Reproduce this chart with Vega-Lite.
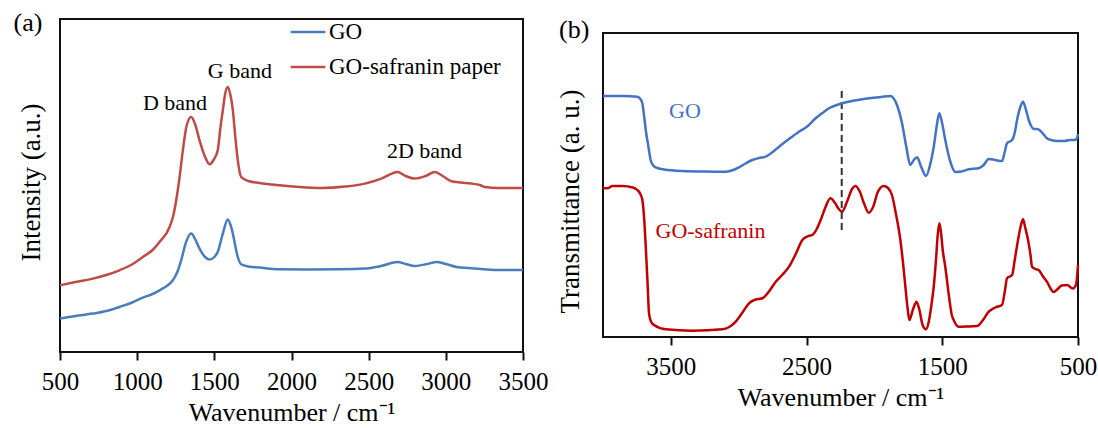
{
  "$schema": "https://vega.github.io/schema/vega-lite/v6.json",
  "background": "white",
  "padding": {"left": 12, "top": 9, "right": 0, "bottom": 0},
  "config": {
    "font": "Liberation Serif",
    "view": {"stroke": "#111", "strokeWidth": 2},
    "axis": {"grid": false, "labelColor": "#000", "titleColor": "#000", "titleFontWeight": "normal", "tickColor": "#111", "labelFont": "Liberation Serif", "titleFont": "Liberation Serif"},
    "legend": {"labelFont": "Liberation Serif"},
    "text": {"font": "Liberation Serif"}
  },
  "datasets": {
    "raman": [
      {"x": 500, "v": 33.4, "series": "GO"}, {"x": 600, "v": 36, "series": "GO"}, {"x": 713, "v": 38.4, "series": "GO"}, {"x": 800, "v": 41, "series": "GO"}, {"x": 885, "v": 45, "series": "GO"}, {"x": 960, "v": 49, "series": "GO"}, {"x": 1037, "v": 54.4, "series": "GO"}, {"x": 1100, "v": 58, "series": "GO"}, {"x": 1145, "v": 61.7, "series": "GO"}, {"x": 1200, "v": 67, "series": "GO"}, {"x": 1231, "v": 71.7, "series": "GO"}, {"x": 1260, "v": 80, "series": "GO"}, {"x": 1285, "v": 91.7, "series": "GO"}, {"x": 1317, "v": 110, "series": "GO"}, {"x": 1350, "v": 118.4, "series": "GO"}, {"x": 1375, "v": 113, "series": "GO"}, {"x": 1404, "v": 103.4, "series": "GO"}, {"x": 1440, "v": 95, "series": "GO"}, {"x": 1469, "v": 92.4, "series": "GO"}, {"x": 1500, "v": 95, "series": "GO"}, {"x": 1522, "v": 100, "series": "GO"}, {"x": 1555, "v": 118.4, "series": "GO"}, {"x": 1587, "v": 132.4, "series": "GO"}, {"x": 1605, "v": 127, "series": "GO"}, {"x": 1620, "v": 118.4, "series": "GO"}, {"x": 1640, "v": 103, "series": "GO"}, {"x": 1652, "v": 95, "series": "GO"}, {"x": 1674, "v": 87.7, "series": "GO"}, {"x": 1720, "v": 85.5, "series": "GO"}, {"x": 1793, "v": 84.4, "series": "GO"}, {"x": 1922, "v": 82.7, "series": "GO"}, {"x": 2100, "v": 82.5, "series": "GO"}, {"x": 2300, "v": 82.7, "series": "GO"}, {"x": 2475, "v": 83.4, "series": "GO"}, {"x": 2580, "v": 86, "series": "GO"}, {"x": 2687, "v": 90, "series": "GO"}, {"x": 2740, "v": 88, "series": "GO"}, {"x": 2799, "v": 86, "series": "GO"}, {"x": 2880, "v": 88, "series": "GO"}, {"x": 2940, "v": 90, "series": "GO"}, {"x": 3000, "v": 88, "series": "GO"}, {"x": 3070, "v": 85, "series": "GO"}, {"x": 3150, "v": 84, "series": "GO"}, {"x": 3252, "v": 82.7, "series": "GO"}, {"x": 3350, "v": 82, "series": "GO"}, {"x": 3500, "v": 82, "series": "GO"},
      {"x": 500, "v": 66.7, "series": "GO-safranin paper"}, {"x": 600, "v": 70, "series": "GO-safranin paper"}, {"x": 713, "v": 73.4, "series": "GO-safranin paper"}, {"x": 800, "v": 77, "series": "GO-safranin paper"}, {"x": 885, "v": 81.7, "series": "GO-safranin paper"}, {"x": 960, "v": 87, "series": "GO-safranin paper"}, {"x": 1037, "v": 95, "series": "GO-safranin paper"}, {"x": 1100, "v": 102, "series": "GO-safranin paper"}, {"x": 1145, "v": 110, "series": "GO-safranin paper"}, {"x": 1210, "v": 125, "series": "GO-safranin paper"}, {"x": 1235, "v": 137, "series": "GO-safranin paper"}, {"x": 1253, "v": 151.7, "series": "GO-safranin paper"}, {"x": 1275, "v": 175, "series": "GO-safranin paper"}, {"x": 1296, "v": 201.7, "series": "GO-safranin paper"}, {"x": 1320, "v": 226, "series": "GO-safranin paper"}, {"x": 1350, "v": 235, "series": "GO-safranin paper"}, {"x": 1375, "v": 228, "series": "GO-safranin paper"}, {"x": 1404, "v": 211.7, "series": "GO-safranin paper"}, {"x": 1440, "v": 195, "series": "GO-safranin paper"}, {"x": 1469, "v": 187.7, "series": "GO-safranin paper"}, {"x": 1495, "v": 192, "series": "GO-safranin paper"}, {"x": 1522, "v": 201.7, "series": "GO-safranin paper"}, {"x": 1540, "v": 225, "series": "GO-safranin paper"}, {"x": 1555, "v": 241.7, "series": "GO-safranin paper"}, {"x": 1570, "v": 258, "series": "GO-safranin paper"}, {"x": 1587, "v": 265, "series": "GO-safranin paper"}, {"x": 1603, "v": 258, "series": "GO-safranin paper"}, {"x": 1620, "v": 241.7, "series": "GO-safranin paper"}, {"x": 1636, "v": 215, "series": "GO-safranin paper"}, {"x": 1652, "v": 191.7, "series": "GO-safranin paper"}, {"x": 1674, "v": 175, "series": "GO-safranin paper"}, {"x": 1720, "v": 171, "series": "GO-safranin paper"}, {"x": 1793, "v": 169, "series": "GO-safranin paper"}, {"x": 1922, "v": 166.7, "series": "GO-safranin paper"}, {"x": 2050, "v": 165, "series": "GO-safranin paper"}, {"x": 2194, "v": 164, "series": "GO-safranin paper"}, {"x": 2350, "v": 165.5, "series": "GO-safranin paper"}, {"x": 2475, "v": 168.4, "series": "GO-safranin paper"}, {"x": 2583, "v": 173.4, "series": "GO-safranin paper"}, {"x": 2687, "v": 180, "series": "GO-safranin paper"}, {"x": 2740, "v": 176, "series": "GO-safranin paper"}, {"x": 2799, "v": 173.4, "series": "GO-safranin paper"}, {"x": 2870, "v": 176, "series": "GO-safranin paper"}, {"x": 2929, "v": 180, "series": "GO-safranin paper"}, {"x": 2980, "v": 176, "series": "GO-safranin paper"}, {"x": 3037, "v": 170.7, "series": "GO-safranin paper"}, {"x": 3100, "v": 169.5, "series": "GO-safranin paper"}, {"x": 3166, "v": 168.4, "series": "GO-safranin paper"}, {"x": 3220, "v": 167, "series": "GO-safranin paper"}, {"x": 3252, "v": 165, "series": "GO-safranin paper"}, {"x": 3340, "v": 164, "series": "GO-safranin paper"}, {"x": 3500, "v": 164, "series": "GO-safranin paper"}
    ],
    "ftir": [
      {"x": 4000, "v": 241, "sample": "GO"}, {"x": 3850, "v": 241, "sample": "GO"}, {"x": 3747, "v": 240.3, "sample": "GO"}, {"x": 3725, "v": 238, "sample": "GO"}, {"x": 3710, "v": 233.7, "sample": "GO"}, {"x": 3698, "v": 222, "sample": "GO"}, {"x": 3685, "v": 207, "sample": "GO"}, {"x": 3665, "v": 190, "sample": "GO"}, {"x": 3649, "v": 177, "sample": "GO"}, {"x": 3630, "v": 171.5, "sample": "GO"}, {"x": 3612, "v": 169.7, "sample": "GO"}, {"x": 3550, "v": 167.5, "sample": "GO"}, {"x": 3416, "v": 166, "sample": "GO"}, {"x": 3250, "v": 165.5, "sample": "GO"}, {"x": 3096, "v": 165.3, "sample": "GO"}, {"x": 3040, "v": 167, "sample": "GO"}, {"x": 2998, "v": 169.7, "sample": "GO"}, {"x": 2950, "v": 173.5, "sample": "GO"}, {"x": 2900, "v": 177, "sample": "GO"}, {"x": 2850, "v": 179, "sample": "GO"}, {"x": 2801, "v": 180.3, "sample": "GO"}, {"x": 2750, "v": 185, "sample": "GO"}, {"x": 2703, "v": 190.3, "sample": "GO"}, {"x": 2630, "v": 198, "sample": "GO"}, {"x": 2556, "v": 205.3, "sample": "GO"}, {"x": 2500, "v": 210, "sample": "GO"}, {"x": 2433, "v": 218.7, "sample": "GO"}, {"x": 2386, "v": 223.7, "sample": "GO"}, {"x": 2335, "v": 228.7, "sample": "GO"}, {"x": 2239, "v": 233.7, "sample": "GO"}, {"x": 2100, "v": 237.5, "sample": "GO"}, {"x": 1950, "v": 240, "sample": "GO"}, {"x": 1883, "v": 241, "sample": "GO"}, {"x": 1834, "v": 232, "sample": "GO"}, {"x": 1797, "v": 214, "sample": "GO"}, {"x": 1765, "v": 190, "sample": "GO"}, {"x": 1736, "v": 172, "sample": "GO"}, {"x": 1710, "v": 177, "sample": "GO"}, {"x": 1686, "v": 179.7, "sample": "GO"}, {"x": 1655, "v": 170, "sample": "GO"}, {"x": 1620, "v": 161, "sample": "GO"}, {"x": 1590, "v": 172, "sample": "GO"}, {"x": 1563, "v": 190, "sample": "GO"}, {"x": 1540, "v": 212, "sample": "GO"}, {"x": 1522, "v": 223.7, "sample": "GO"}, {"x": 1500, "v": 213, "sample": "GO"}, {"x": 1478, "v": 197, "sample": "GO"}, {"x": 1440, "v": 175, "sample": "GO"}, {"x": 1404, "v": 165, "sample": "GO"}, {"x": 1360, "v": 165.5, "sample": "GO"}, {"x": 1305, "v": 167.7, "sample": "GO"}, {"x": 1232, "v": 168.7, "sample": "GO"}, {"x": 1195, "v": 172, "sample": "GO"}, {"x": 1158, "v": 178, "sample": "GO"}, {"x": 1110, "v": 177, "sample": "GO"}, {"x": 1060, "v": 176, "sample": "GO"}, {"x": 1040, "v": 185, "sample": "GO"}, {"x": 1023, "v": 193.7, "sample": "GO"}, {"x": 986, "v": 197, "sample": "GO"}, {"x": 965, "v": 205, "sample": "GO"}, {"x": 949, "v": 217, "sample": "GO"}, {"x": 925, "v": 230, "sample": "GO"}, {"x": 905, "v": 235.3, "sample": "GO"}, {"x": 885, "v": 228, "sample": "GO"}, {"x": 863, "v": 217, "sample": "GO"}, {"x": 845, "v": 211, "sample": "GO"}, {"x": 826, "v": 208, "sample": "GO"}, {"x": 800, "v": 208, "sample": "GO"}, {"x": 778, "v": 206.3, "sample": "GO"}, {"x": 750, "v": 202, "sample": "GO"}, {"x": 729, "v": 198.7, "sample": "GO"}, {"x": 700, "v": 197, "sample": "GO"}, {"x": 650, "v": 196, "sample": "GO"}, {"x": 600, "v": 196, "sample": "GO"}, {"x": 560, "v": 197, "sample": "GO"}, {"x": 530, "v": 197, "sample": "GO"}, {"x": 510, "v": 198, "sample": "GO"}, {"x": 500, "v": 203, "sample": "GO"},
      {"x": 4000, "v": 148.7, "sample": "GO-safranin"}, {"x": 3960, "v": 149, "sample": "GO-safranin"}, {"x": 3931, "v": 151, "sample": "GO-safranin"}, {"x": 3858, "v": 151, "sample": "GO-safranin"}, {"x": 3780, "v": 149.5, "sample": "GO-safranin"}, {"x": 3747, "v": 147, "sample": "GO-safranin"}, {"x": 3725, "v": 143, "sample": "GO-safranin"}, {"x": 3710, "v": 137, "sample": "GO-safranin"}, {"x": 3695, "v": 115, "sample": "GO-safranin"}, {"x": 3685, "v": 90.3, "sample": "GO-safranin"}, {"x": 3672, "v": 55, "sample": "GO-safranin"}, {"x": 3661, "v": 23.7, "sample": "GO-safranin"}, {"x": 3645, "v": 15, "sample": "GO-safranin"}, {"x": 3624, "v": 12, "sample": "GO-safranin"}, {"x": 3538, "v": 7.7, "sample": "GO-safranin"}, {"x": 3342, "v": 6.3, "sample": "GO-safranin"}, {"x": 3121, "v": 7.7, "sample": "GO-safranin"}, {"x": 3070, "v": 10, "sample": "GO-safranin"}, {"x": 3022, "v": 15.3, "sample": "GO-safranin"}, {"x": 2975, "v": 24, "sample": "GO-safranin"}, {"x": 2924, "v": 33.7, "sample": "GO-safranin"}, {"x": 2875, "v": 37.5, "sample": "GO-safranin"}, {"x": 2826, "v": 38.7, "sample": "GO-safranin"}, {"x": 2780, "v": 45, "sample": "GO-safranin"}, {"x": 2727, "v": 55.3, "sample": "GO-safranin"}, {"x": 2680, "v": 62, "sample": "GO-safranin"}, {"x": 2629, "v": 70.3, "sample": "GO-safranin"}, {"x": 2580, "v": 83, "sample": "GO-safranin"}, {"x": 2531, "v": 97, "sample": "GO-safranin"}, {"x": 2495, "v": 100.5, "sample": "GO-safranin"}, {"x": 2458, "v": 102, "sample": "GO-safranin"}, {"x": 2425, "v": 108, "sample": "GO-safranin"}, {"x": 2396, "v": 117, "sample": "GO-safranin"}, {"x": 2360, "v": 130, "sample": "GO-safranin"}, {"x": 2325, "v": 138.7, "sample": "GO-safranin"}, {"x": 2290, "v": 134, "sample": "GO-safranin"}, {"x": 2260, "v": 127.5, "sample": "GO-safranin"}, {"x": 2239, "v": 125.3, "sample": "GO-safranin"}, {"x": 2200, "v": 136, "sample": "GO-safranin"}, {"x": 2165, "v": 148, "sample": "GO-safranin"}, {"x": 2141, "v": 151, "sample": "GO-safranin"}, {"x": 2110, "v": 146, "sample": "GO-safranin"}, {"x": 2075, "v": 133, "sample": "GO-safranin"}, {"x": 2042, "v": 124.3, "sample": "GO-safranin"}, {"x": 2010, "v": 130, "sample": "GO-safranin"}, {"x": 1975, "v": 145, "sample": "GO-safranin"}, {"x": 1932, "v": 151, "sample": "GO-safranin"}, {"x": 1900, "v": 149, "sample": "GO-safranin"}, {"x": 1871, "v": 142, "sample": "GO-safranin"}, {"x": 1840, "v": 122, "sample": "GO-safranin"}, {"x": 1809, "v": 97, "sample": "GO-safranin"}, {"x": 1790, "v": 75, "sample": "GO-safranin"}, {"x": 1772, "v": 50.3, "sample": "GO-safranin"}, {"x": 1755, "v": 28, "sample": "GO-safranin"}, {"x": 1743, "v": 17, "sample": "GO-safranin"}, {"x": 1715, "v": 28, "sample": "GO-safranin"}, {"x": 1690, "v": 35.3, "sample": "GO-safranin"}, {"x": 1670, "v": 28, "sample": "GO-safranin"}, {"x": 1645, "v": 12, "sample": "GO-safranin"}, {"x": 1620, "v": 7.7, "sample": "GO-safranin"}, {"x": 1600, "v": 15, "sample": "GO-safranin"}, {"x": 1580, "v": 32, "sample": "GO-safranin"}, {"x": 1563, "v": 50.3, "sample": "GO-safranin"}, {"x": 1545, "v": 80, "sample": "GO-safranin"}, {"x": 1535, "v": 100, "sample": "GO-safranin"}, {"x": 1522, "v": 113.7, "sample": "GO-safranin"}, {"x": 1510, "v": 105, "sample": "GO-safranin"}, {"x": 1495, "v": 85, "sample": "GO-safranin"}, {"x": 1478, "v": 70.3, "sample": "GO-safranin"}, {"x": 1450, "v": 40, "sample": "GO-safranin"}, {"x": 1430, "v": 22, "sample": "GO-safranin"}, {"x": 1416, "v": 17, "sample": "GO-safranin"}, {"x": 1380, "v": 10.3, "sample": "GO-safranin"}, {"x": 1320, "v": 10.5, "sample": "GO-safranin"}, {"x": 1244, "v": 11, "sample": "GO-safranin"}, {"x": 1200, "v": 17, "sample": "GO-safranin"}, {"x": 1158, "v": 25.3, "sample": "GO-safranin"}, {"x": 1110, "v": 29.5, "sample": "GO-safranin"}, {"x": 1060, "v": 32, "sample": "GO-safranin"}, {"x": 1040, "v": 45, "sample": "GO-safranin"}, {"x": 1023, "v": 58.7, "sample": "GO-safranin"}, {"x": 986, "v": 62, "sample": "GO-safranin"}, {"x": 965, "v": 78, "sample": "GO-safranin"}, {"x": 942, "v": 97, "sample": "GO-safranin"}, {"x": 920, "v": 112, "sample": "GO-safranin"}, {"x": 905, "v": 117.7, "sample": "GO-safranin"}, {"x": 890, "v": 110, "sample": "GO-safranin"}, {"x": 868, "v": 97, "sample": "GO-safranin"}, {"x": 850, "v": 82, "sample": "GO-safranin"}, {"x": 839, "v": 70.3, "sample": "GO-safranin"}, {"x": 815, "v": 68, "sample": "GO-safranin"}, {"x": 790, "v": 67, "sample": "GO-safranin"}, {"x": 760, "v": 61, "sample": "GO-safranin"}, {"x": 729, "v": 55.3, "sample": "GO-safranin"}, {"x": 700, "v": 48, "sample": "GO-safranin"}, {"x": 680, "v": 45, "sample": "GO-safranin"}, {"x": 650, "v": 48, "sample": "GO-safranin"}, {"x": 620, "v": 51.5, "sample": "GO-safranin"}, {"x": 580, "v": 52, "sample": "GO-safranin"}, {"x": 540, "v": 48.5, "sample": "GO-safranin"}, {"x": 515, "v": 52, "sample": "GO-safranin"}, {"x": 500, "v": 72, "sample": "GO-safranin"}
    ],
    "annA": [
      {"x": 1245, "v": 241.7, "label": "D band"},
      {"x": 1666, "v": 273.7, "label": "G band"},
      {"x": 2862, "v": 193.7, "label": "2D band"}
    ],
    "tagA": [{"x": 199, "v": 320.7, "label": "(a)"}],
    "annB": [
      {"x": 3396, "v": 219, "label": "GO", "sample": "GO"},
      {"x": 3208, "v": 99, "label": "GO-safranin", "sample": "GO-safranin"}
    ],
    "tagB": [{"x": 4324, "v": 299, "label": "(b)"}],
    "dash": [{"x": 2241, "v1": 246, "v2": 105}]
  },
  "resolve": {"scale": {"color": "independent", "x": "independent", "y": "independent"}},
  "bounds": "flush",
  "spacing": 80,
  "hconcat": [
    {
      "width": 463,
      "height": 333,
      "layer": [
        {
          "data": {"name": "raman"},
          "mark": {"type": "line", "strokeWidth": 2.5, "interpolate": "monotone", "clip": false},
          "encoding": {
            "x": {"field": "x", "type": "quantitative", "scale": {"domain": [500, 3500], "nice": false, "zero": false},
              "axis": {"values": [500, 1000, 1500, 2000, 2500, 3000, 3500], "format": "d", "title": "Wavenumber / cm⁻¹", "labelFontSize": 25, "titleFontSize": 26, "tickSize": 8, "tickWidth": 2, "labelPadding": 9, "titlePadding": 5, "domain": false, "labelFlush": false}},
            "y": {"field": "v", "type": "quantitative", "scale": {"domain": [0, 333], "nice": false, "zero": false},
              "axis": {"title": "Intensity (a.u.)", "labels": false, "ticks": false, "domain": false, "titleFontSize": 27, "titlePadding": 15, "titleY": 163}},
            "color": {"field": "series", "type": "nominal",
              "scale": {"domain": ["GO", "GO-safranin paper"], "range": ["#4A7EBB", "#BE4B48"]},
              "legend": {"title": null, "orient": "none", "legendX": 229, "legendY": -6, "symbolType": "stroke", "symbolSize": 1200, "symbolStrokeWidth": 2.5, "labelFontSize": 23, "labelColor": "#000", "labelOffset": 2, "labelLimit": 0, "rowPadding": 4, "padding": 0}},
            "order": {"field": "x", "type": "quantitative"}
          }
        },
        {
          "data": {"name": "annA"},
          "mark": {"type": "text", "fontSize": 22, "align": "center", "baseline": "alphabetic", "color": "#000"},
          "encoding": {
            "x": {"field": "x", "type": "quantitative"},
            "y": {"field": "v", "type": "quantitative"},
            "text": {"field": "label"}
          }
        },
        {
          "data": {"name": "tagA"},
          "mark": {"type": "text", "fontSize": 26, "align": "left", "baseline": "alphabetic", "color": "#000"},
          "encoding": {
            "x": {"field": "x", "type": "quantitative"},
            "y": {"field": "v", "type": "quantitative"},
            "text": {"field": "label"}
          }
        }
      ]
    },
    {
      "bounds": "flush",
      "spacing": 0,
      "vconcat": [
        {
          "width": 475,
          "height": 14,
          "view": {"stroke": null},
          "data": {"values": [{"label": ""}]},
          "mark": {"type": "text", "opacity": 0},
          "encoding": {"text": {"field": "label"}}
        },
        {
          "width": 475,
          "height": 304,
          "layer": [
            {
              "data": {"name": "dash"},
              "mark": {"type": "rule", "strokeDash": [7, 4], "strokeWidth": 2, "color": "#333"},
              "encoding": {
                "x": {"field": "x", "type": "quantitative"},
                "y": {"field": "v1", "type": "quantitative"},
                "y2": {"field": "v2"}
              }
            },
            {
              "data": {"name": "ftir"},
              "mark": {"type": "line", "strokeWidth": 2.5, "interpolate": "monotone", "clip": false},
              "encoding": {
                "x": {"field": "x", "type": "quantitative", "scale": {"domain": [500, 4000], "reverse": true, "nice": false, "zero": false},
                  "axis": {"values": [3500, 2500, 1500, 500], "format": "d", "title": "Wavenumber / cm⁻¹", "labelFontSize": 25, "titleFontSize": 26, "tickSize": 8, "tickWidth": 2, "labelPadding": 9, "titlePadding": 5, "domain": false, "labelFlush": false}},
                "y": {"field": "v", "type": "quantitative", "scale": {"domain": [0, 304], "nice": false, "zero": false},
                  "axis": {"title": "Transmittance (a. u.)", "labels": false, "ticks": false, "domain": false, "titleFontSize": 27, "titlePadding": 19, "titleY": 168}},
                "color": {"field": "sample", "type": "nominal",
                  "scale": {"domain": ["GO", "GO-safranin"], "range": ["#4472C4", "#C00000"]},
                  "legend": null},
                "order": {"field": "x", "type": "quantitative", "sort": "descending"}
              }
            },
            {
              "data": {"name": "annB"},
              "mark": {"type": "text", "fontSize": 22, "align": "center", "baseline": "alphabetic"},
              "encoding": {
                "x": {"field": "x", "type": "quantitative"},
                "y": {"field": "v", "type": "quantitative"},
                "text": {"field": "label"},
                "color": {"field": "sample", "type": "nominal", "legend": null}
              }
            },
            {
              "data": {"name": "tagB"},
              "mark": {"type": "text", "fontSize": 26, "align": "left", "baseline": "alphabetic", "color": "#000"},
              "encoding": {
                "x": {"field": "x", "type": "quantitative"},
                "y": {"field": "v", "type": "quantitative"},
                "text": {"field": "label"}
              }
            }
          ]
        }
      ]
    }
  ]
}
